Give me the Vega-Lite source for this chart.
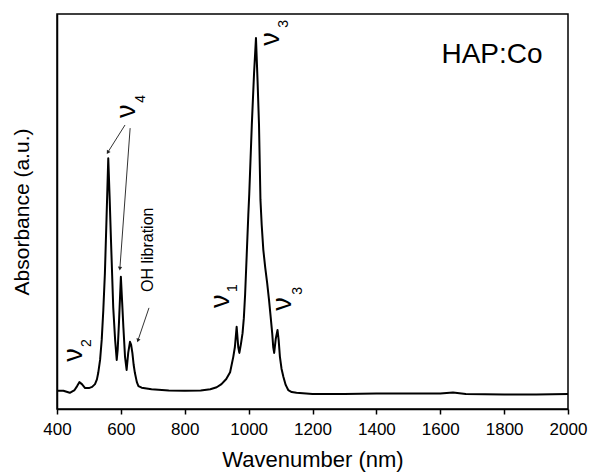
{
  "$schema": "https://vega.github.io/schema/vega-lite/v6.json",
  "width": 511,
  "height": 395,
  "autosize": {"type": "none"},
  "padding": {"left": 57, "top": 14, "right": 21, "bottom": 64},
  "background": "white",
  "config": {
    "font": "Liberation Sans",
    "view": {"stroke": "black", "strokeWidth": 1.5},
    "axis": {"grid": false, "domainColor": "black", "tickColor": "black", "labelColor": "black", "titleColor": "black", "titleFontWeight": "normal", "domainWidth": 1.5}
  },
  "datasets": {
    "spectrum": [
      {"nm": 400, "a": 0.046}, {"nm": 420, "a": 0.046}, {"nm": 440, "a": 0.041}, {"nm": 455, "a": 0.048},
      {"nm": 463, "a": 0.058}, {"nm": 470, "a": 0.068}, {"nm": 478, "a": 0.063}, {"nm": 488, "a": 0.053},
      {"nm": 500, "a": 0.053}, {"nm": 510, "a": 0.056}, {"nm": 519, "a": 0.063}, {"nm": 525, "a": 0.075},
      {"nm": 529, "a": 0.091}, {"nm": 535, "a": 0.125}, {"nm": 540, "a": 0.175}, {"nm": 545, "a": 0.25},
      {"nm": 550, "a": 0.344}, {"nm": 555, "a": 0.48}, {"nm": 560.5, "a": 0.635}, {"nm": 565, "a": 0.53},
      {"nm": 569, "a": 0.428}, {"nm": 576, "a": 0.258}, {"nm": 582, "a": 0.175}, {"nm": 587, "a": 0.124},
      {"nm": 590, "a": 0.15}, {"nm": 594, "a": 0.218}, {"nm": 600, "a": 0.335}, {"nm": 604, "a": 0.27},
      {"nm": 608, "a": 0.205}, {"nm": 613, "a": 0.132}, {"nm": 618, "a": 0.099}, {"nm": 623, "a": 0.142},
      {"nm": 628.5, "a": 0.17}, {"nm": 632, "a": 0.163}, {"nm": 636, "a": 0.142}, {"nm": 640, "a": 0.112},
      {"nm": 644, "a": 0.091}, {"nm": 650, "a": 0.068}, {"nm": 655, "a": 0.058}, {"nm": 665, "a": 0.054},
      {"nm": 696, "a": 0.05}, {"nm": 750, "a": 0.047}, {"nm": 800, "a": 0.046}, {"nm": 850, "a": 0.047},
      {"nm": 880, "a": 0.05}, {"nm": 900, "a": 0.055}, {"nm": 915, "a": 0.063}, {"nm": 930, "a": 0.076},
      {"nm": 942, "a": 0.093}, {"nm": 952, "a": 0.132}, {"nm": 957, "a": 0.157}, {"nm": 962.5, "a": 0.208},
      {"nm": 967.5, "a": 0.157}, {"nm": 971, "a": 0.142}, {"nm": 976, "a": 0.165}, {"nm": 981, "a": 0.192},
      {"nm": 985, "a": 0.23}, {"nm": 989, "a": 0.29}, {"nm": 994, "a": 0.39}, {"nm": 999, "a": 0.491},
      {"nm": 1002, "a": 0.545}, {"nm": 1010, "a": 0.72}, {"nm": 1017, "a": 0.85}, {"nm": 1023, "a": 0.939},
      {"nm": 1028, "a": 0.83}, {"nm": 1032.5, "a": 0.719}, {"nm": 1037, "a": 0.53}, {"nm": 1041, "a": 0.465},
      {"nm": 1046, "a": 0.403}, {"nm": 1052, "a": 0.358}, {"nm": 1058, "a": 0.319}, {"nm": 1064, "a": 0.275},
      {"nm": 1069, "a": 0.233}, {"nm": 1074, "a": 0.19}, {"nm": 1077, "a": 0.157}, {"nm": 1080, "a": 0.142},
      {"nm": 1085, "a": 0.178}, {"nm": 1090.5, "a": 0.2}, {"nm": 1094, "a": 0.175}, {"nm": 1098, "a": 0.132},
      {"nm": 1103, "a": 0.102}, {"nm": 1109, "a": 0.081}, {"nm": 1116, "a": 0.061}, {"nm": 1124, "a": 0.048},
      {"nm": 1135, "a": 0.043}, {"nm": 1150, "a": 0.041}, {"nm": 1200, "a": 0.038}, {"nm": 1300, "a": 0.038},
      {"nm": 1400, "a": 0.039}, {"nm": 1500, "a": 0.039}, {"nm": 1600, "a": 0.039}, {"nm": 1640, "a": 0.042},
      {"nm": 1680, "a": 0.038}, {"nm": 1800, "a": 0.037}, {"nm": 1900, "a": 0.037}, {"nm": 2000, "a": 0.038}
    ],
    "arrows": [
      {"name": "v4a", "x1": 613, "y1": 0.719, "x2": 560, "y2": 0.651},
      {"name": "v4b", "x1": 629, "y1": 0.711, "x2": 597, "y2": 0.357},
      {"name": "oh", "x1": 688, "y1": 0.256, "x2": 654, "y2": 0.175}
    ],
    "nu": [
      {"text": "ν", "nm": 1070, "a": 0.937},
      {"text": "ν", "nm": 619, "a": 0.754},
      {"text": "ν", "nm": 453, "a": 0.137},
      {"text": "ν", "nm": 913, "a": 0.273},
      {"text": "ν", "nm": 1107, "a": 0.266}
    ],
    "subs": [
      {"text": "3", "nm": 1111, "a": 0.975},
      {"text": "4", "nm": 663, "a": 0.785},
      {"text": "2", "nm": 494, "a": 0.167},
      {"text": "1", "nm": 951, "a": 0.306},
      {"text": "3", "nm": 1155, "a": 0.299}
    ]
  },
  "layer": [
    {
      "data": {"name": "spectrum"},
      "mark": {"type": "line", "color": "black", "strokeWidth": 2, "interpolate": "linear", "strokeJoin": "round"},
      "encoding": {
        "x": {"field": "nm", "type": "quantitative", "scale": {"domain": [400, 2000], "nice": false},
          "axis": {"title": "Wavenumber (nm)", "values": [400,500,600,700,800,900,1000,1100,1200,1300,1400,1500,1600,1700,1800,1900,2000],
            "labelExpr": "datum.value % 200 === 0 ? datum.label : ''", "labelOverlap": false, "format": "d",
            "tickSize": {"condition": {"test": "datum.value % 200 === 0", "value": 5}, "value": 3},
            "tickWidth": 1.5, "labelFontSize": 17, "labelPadding": 7, "titleFontSize": 22, "titlePadding": 12, "labelFlush": false}},
        "y": {"field": "a", "type": "quantitative", "scale": {"domain": [0, 1], "nice": false},
          "axis": {"title": "Absorbance (a.u.)", "labels": false, "ticks": false, "titleFontSize": 21, "titlePadding": 25}}
      }
    },
    {
      "data": {"name": "arrows"},
      "mark": {"type": "rule", "color": "#333", "strokeWidth": 1},
      "encoding": {
        "x": {"field": "x1", "type": "quantitative"}, "y": {"field": "y1", "type": "quantitative"},
        "x2": {"field": "x2"}, "y2": {"field": "y2"}
      }
    },
    {
      "data": {"name": "arrows"},
      "transform": [{"filter": "datum.name === 'v4a'"}],
      "mark": {"type": "point", "shape": "triangle", "filled": true, "color": "#222", "size": 18, "angle": 212, "opacity": 1},
      "encoding": {"x": {"field": "x2", "type": "quantitative"}, "y": {"field": "y2", "type": "quantitative"}}
    },
    {
      "data": {"name": "arrows"},
      "transform": [{"filter": "datum.name === 'v4b'"}],
      "mark": {"type": "point", "shape": "triangle", "filled": true, "color": "#222", "size": 18, "angle": 184, "opacity": 1},
      "encoding": {"x": {"field": "x2", "type": "quantitative"}, "y": {"field": "y2", "type": "quantitative"}}
    },
    {
      "data": {"name": "arrows"},
      "transform": [{"filter": "datum.name === 'oh'"}],
      "mark": {"type": "point", "shape": "triangle", "filled": true, "color": "#222", "size": 18, "angle": 199, "opacity": 1},
      "encoding": {"x": {"field": "x2", "type": "quantitative"}, "y": {"field": "y2", "type": "quantitative"}}
    },
    {
      "data": {"name": "nu"},
      "mark": {"type": "text", "font": "Liberation Sans", "fontSize": 27, "angle": 270, "align": "center", "baseline": "middle", "color": "black"},
      "encoding": {"x": {"field": "nm", "type": "quantitative"}, "y": {"field": "a", "type": "quantitative"}, "text": {"field": "text"}}
    },
    {
      "data": {"name": "subs"},
      "mark": {"type": "text", "font": "Liberation Sans", "fontSize": 14, "angle": 270, "align": "center", "baseline": "middle", "color": "black"},
      "encoding": {"x": {"field": "nm", "type": "quantitative"}, "y": {"field": "a", "type": "quantitative"}, "text": {"field": "text"}}
    },
    {
      "data": {"values": [{"text": "OH libration", "nm": 685, "a": 0.403}]},
      "mark": {"type": "text", "fontSize": 16, "angle": 270, "align": "center", "baseline": "middle", "color": "black"},
      "encoding": {"x": {"field": "nm", "type": "quantitative"}, "y": {"field": "a", "type": "quantitative"}, "text": {"field": "text"}}
    },
    {
      "data": {"values": [{"text": "HAP:Co", "nm": 1762, "a": 0.896}]},
      "mark": {"type": "text", "fontSize": 28, "align": "center", "baseline": "middle", "color": "black"},
      "encoding": {"x": {"field": "nm", "type": "quantitative"}, "y": {"field": "a", "type": "quantitative"}, "text": {"field": "text"}}
    }
  ]
}
